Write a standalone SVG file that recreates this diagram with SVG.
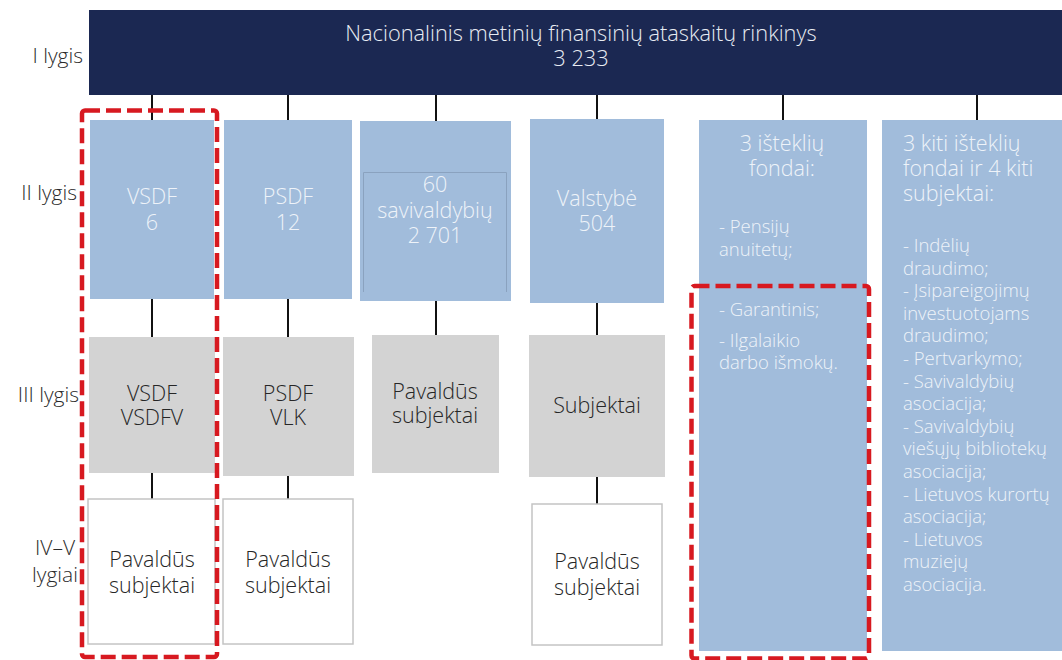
<svg xmlns="http://www.w3.org/2000/svg" width="1062" height="660" viewBox="0 0 1062 660">
<style>
text { font-family: "Open Sans", "Noto Sans", "Liberation Sans", sans-serif; font-weight: 300; }
.lvl { font-size: 21px; fill: #2b2b2b; }
.top { fill: #1b2852; }
.blue { fill: #a1bcdb; }
.gray { fill: #d3d3d3; }
.white { fill: #ffffff; stroke: #c4c4c4; stroke-width: 1.5; }
.lt { fill: #eef3f9; font-size: 21.5px; text-anchor: middle; }
.ls { fill: #eef3f9; font-size: 21.5px; }
.lb { fill: #eef3f9; font-size: 18.5px; }
.dk { fill: #262626; font-size: 21.5px; text-anchor: middle; }
.ttl { fill: #e8ecf3; font-size: 21.8px; text-anchor: middle; }
.conn line { stroke: #111; stroke-width: 2; }
.hl { fill: none; stroke: #d71920; stroke-width: 4.5; stroke-dasharray: 15 6; }
</style>

<g id="levels">
<text class="lvl" x="83" y="63" text-anchor="end">I lygis</text>
<text class="lvl" x="77" y="200" text-anchor="end">II lygis</text>
<text class="lvl" x="79" y="402" text-anchor="end">III lygis</text>
<text class="lvl" x="55" y="555" text-anchor="middle"><tspan x="55">IV–V</tspan><tspan x="55" dy="27">lygiai</tspan></text>
</g>

<g class="conn" id="connectors">
<line x1="152" y1="95" x2="152" y2="120"/>
<line x1="152" y1="299" x2="152" y2="337"/>
<line x1="152" y1="473" x2="152" y2="499"/>
<line x1="288" y1="95" x2="288" y2="120"/>
<line x1="288" y1="299" x2="288" y2="337"/>
<line x1="288" y1="476" x2="288" y2="499"/>
<line x1="436" y1="95" x2="436" y2="121"/>
<line x1="436" y1="301" x2="436" y2="335"/>
<line x1="597" y1="95" x2="597" y2="119"/>
<line x1="597" y1="303" x2="597" y2="335"/>
<line x1="597" y1="477" x2="597" y2="504"/>
<line x1="783" y1="95" x2="783" y2="120"/>
<line x1="977" y1="95" x2="977" y2="120"/>
</g>

<g id="national">
<rect class="top" x="89" y="10" width="973" height="85"/>
<text class="ttl" x="581" y="41"><tspan x="581">Nacionalinis metinių finansinių ataskaitų rinkinys</tspan><tspan x="581" dy="25">3 233</tspan></text>
</g>

<g id="vsdf">
<rect class="blue" x="90" y="120" width="124" height="179"/>
<text class="lt" x="152" y="204"><tspan x="152">VSDF</tspan><tspan x="152" dy="26">6</tspan></text>
</g>

<g id="psdf">
<rect class="blue" x="224" y="120" width="128" height="179"/>
<text class="lt" x="288" y="204"><tspan x="288">PSDF</tspan><tspan x="288" dy="26">12</tspan></text>
</g>

<g id="savivaldybes">
<rect class="blue" x="360" y="121" width="151" height="180"/>
<path d="M363.5,292 V172.5 H506.5 V292" fill="none" stroke="#8aa2bf" stroke-width="1"/>
<text class="lt" x="435" y="192"><tspan x="435">60</tspan><tspan x="435" dy="25.5">savivaldybių</tspan><tspan x="435" dy="25.5">2 701</tspan></text>
</g>

<g id="valstybe">
<rect class="blue" x="530" y="119" width="134" height="184"/>
<text class="lt" x="597" y="206"><tspan x="597">Valstybė</tspan><tspan x="597" dy="25">504</tspan></text>
</g>

<g id="istekliu-fondai">
<rect class="blue" x="699" y="120" width="168" height="531"/>
<text class="lt" x="782" y="151"><tspan x="782">3 išteklių</tspan><tspan x="782" dy="25">fondai:</tspan></text>
<text class="lb" x="719" y="233"><tspan x="719">- Pensijų</tspan><tspan x="719" dy="23">anuitetų;</tspan></text>
<text class="lb" x="719" y="316">- Garantinis;</text>
<text class="lb" x="719" y="347"><tspan x="719">- Ilgalaikio</tspan><tspan x="719" dy="22">darbo išmokų.</tspan></text>
</g>

<g id="kiti">
<rect class="blue" x="882" y="120" width="180" height="531"/>
<text class="ls" x="903" y="151"><tspan x="903">3 kiti išteklių</tspan><tspan x="903" dy="25">fondai ir 4 kiti</tspan><tspan x="903" dy="25">subjektai:</tspan></text>
<text class="lb" x="903" y="252">
<tspan x="903">- Indėlių</tspan>
<tspan x="903" dy="22.6">draudimo;</tspan>
<tspan x="903" dy="22.6">- Įsipareigojimų</tspan>
<tspan x="903" dy="22.6">investuotojams</tspan>
<tspan x="903" dy="22.6">draudimo;</tspan>
<tspan x="903" dy="22.6">- Pertvarkymo;</tspan>
<tspan x="903" dy="22.6">- Savivaldybių</tspan>
<tspan x="903" dy="22.6">asociacija;</tspan>
<tspan x="903" dy="22.6">- Savivaldybių</tspan>
<tspan x="903" dy="22.6">viešųjų bibliotekų</tspan>
<tspan x="903" dy="22.6">asociacija;</tspan>
<tspan x="903" dy="22.6">- Lietuvos kurortų</tspan>
<tspan x="903" dy="22.6">asociacija;</tspan>
<tspan x="903" dy="22.6">- Lietuvos</tspan>
<tspan x="903" dy="22.6">muziejų</tspan>
<tspan x="903" dy="22.6">asociacija.</tspan>
</text>
</g>

<g id="vsdf-iii">
<rect class="gray" x="89" y="337" width="126" height="136"/>
<text class="dk" x="152" y="401"><tspan x="152">VSDF</tspan><tspan x="152" dy="24">VSDFV</tspan></text>
</g>

<g id="psdf-iii">
<rect class="gray" x="223" y="337" width="131" height="139"/>
<text class="dk" x="288" y="401"><tspan x="288">PSDF</tspan><tspan x="288" dy="24">VLK</tspan></text>
</g>

<g id="sav-iii">
<rect class="gray" x="372" y="335" width="127" height="138"/>
<text class="dk" x="435" y="399"><tspan x="435">Pavaldūs</tspan><tspan x="435" dy="24">subjektai</tspan></text>
</g>

<g id="valst-iii">
<rect class="gray" x="529" y="335" width="136" height="142"/>
<text class="dk" x="597" y="413">Subjektai</text>
</g>

<g id="vsdf-iv">
<rect class="white" x="88" y="499" width="127" height="145"/>
<text class="dk" x="152" y="567"><tspan x="152">Pavaldūs</tspan><tspan x="152" dy="26">subjektai</tspan></text>
</g>

<g id="psdf-iv">
<rect class="white" x="223" y="499" width="130" height="145"/>
<text class="dk" x="288" y="567"><tspan x="288">Pavaldūs</tspan><tspan x="288" dy="26">subjektai</tspan></text>
</g>

<g id="valst-iv">
<rect class="white" x="532" y="504" width="130" height="141"/>
<text class="dk" x="597" y="569"><tspan x="597">Pavaldūs</tspan><tspan x="597" dy="26">subjektai</tspan></text>
</g>

<g id="highlights">
<rect class="hl" x="82" y="110.5" width="135" height="546.5" rx="3"/>
<rect class="hl" x="691.5" y="286" width="177.5" height="372.5" rx="3"/>
</g>
</svg>
